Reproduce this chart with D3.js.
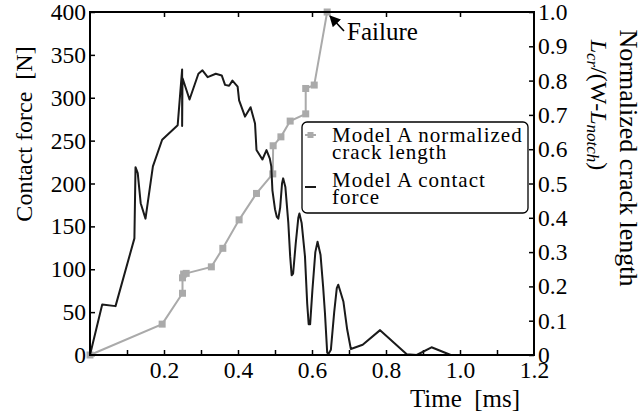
<!DOCTYPE html>
<html>
<head>
<meta charset="utf-8">
<script src="https://cdn.jsdelivr.net/npm/d3@7"></script>
<style>
  html, body { margin: 0; padding: 0; background: #fff; }
  svg text { font-family: "Liberation Serif", "Times New Roman", Tinos, "DejaVu Serif", serif !important; fill: #000; }
</style>
</head>
<body>
<svg id="chart" width="643" height="414"></svg>
<script>
// ---- data ----
const forceTime = [0,0.033,0.069,0.12,0.123,0.129,0.137,0.150,0.170,0.195,0.237,0.249,0.249,0.250,0.269,0.293,0.304,0.318,0.340,0.356,0.365,0.376,0.385,0.399,0.403,0.419,0.434,0.446,0.450,0.466,0.477,0.486,0.490,0.493,0.500,0.505,0.509,0.514,0.519,0.522,0.528,0.536,0.541,0.545,0.549,0.556,0.563,0.566,0.572,0.581,0.587,0.591,0.595,0.601,0.609,0.615,0.623,0.630,0.635,0.641,0.644,0.651,0.660,0.667,0.671,0.676,0.685,0.695,0.705,0.737,0.784,0.856,0.883,0.923,0.975];
const forceValue = [0,59,57,136,219,212,177,159,220,251,268,333,267,323,298,328,332,324,328,326,315,314,320,313,297,278,289,270,239,228,239,229,220,192,170,161,159,172,200,206,196,154,115,93,95,130,160,165,154,115,60,36,36,75,120,132,117,80,49,3,1,6,50,78,82,75,62,30,7,12,29,1,0,9,0];

const crackTime = [0,0.195,0.25,0.25,0.253,0.26,0.328,0.359,0.403,0.45,0.494,0.495,0.516,0.541,0.583,0.583,0.606,0.641];
const crackValue = [0,0.090,0.18,0.225,0.236,0.238,0.257,0.311,0.394,0.471,0.528,0.610,0.636,0.682,0.703,0.777,0.787,1.0];

const xTicks = [0.1,0.2,0.3,0.4,0.5,0.6,0.7,0.8,0.9,1.0,1.1];
const xLabelTicks = [0.2,0.4,0.6,0.8,1.0,1.2];
const xTopTicks = [0.2,0.4,0.6,0.8,1.0];
const yLeftTicks = [0,50,100,150,200,250,300,350,400];
const yRightTicks = [0,0.1,0.2,0.3,0.4,0.5,0.6,0.7,0.8,0.9,1.0];
const legendLabels = [["Model A normalized","crack length"],["Model A contact","force"]];

// ---- layout ----
const svg = d3.select("#chart");
const L = 90, R = 534, T = 12, B = 355;
const x = d3.scaleLinear().domain([0,1.2]).range([L,R]);
const yL = d3.scaleLinear().domain([0,400]).range([B,T]);
const yR = d3.scaleLinear().domain([0,1]).range([B,T]);

const gray = "#aaaaaa";
const black = "#1a1a1a";
const tickFont = 23.5;

function styleAxis(g) {
  g.attr("font-family", null);
  g.select(".domain").remove();
  g.selectAll(".tick line").attr("stroke", "#000").attr("stroke-width", 1.5);
  g.selectAll(".tick text").attr("font-size", tickFont);
}
svg.append("g").attr("transform", `translate(0,${B})`)
  .call(d3.axisBottom(x).tickValues(xTicks).tickSize(-5).tickFormat(""))
  .call(styleAxis);
svg.append("g").attr("transform", `translate(0,${B})`)
  .call(d3.axisBottom(x).tickValues(xLabelTicks).tickSize(0).tickPadding(6).tickFormat(d3.format(".1f")))
  .call(styleAxis);
svg.append("g").attr("transform", `translate(0,${T})`)
  .call(d3.axisTop(x).tickValues(xTopTicks).tickSize(-5).tickFormat(""))
  .call(styleAxis);
svg.append("g").attr("transform", `translate(${L},0)`)
  .call(d3.axisLeft(yL).tickValues(yLeftTicks).tickSize(-5).tickPadding(4).tickFormat(d3.format("d")))
  .call(styleAxis);
svg.append("g").attr("transform", `translate(${R},0)`)
  .call(d3.axisRight(yR).tickValues(yRightTicks).tickSize(-5).tickPadding(4)
    .tickFormat(d => d === 0 ? "0" : d3.format(".1f")(d)))
  .call(styleAxis);

// crack length line (gray)
const crackData = crackTime.map((t,i) => [t, crackValue[i]]);
svg.append("path").datum(crackData)
  .attr("fill","none").attr("stroke", gray).attr("stroke-width", 2)
  .attr("d", d3.line().x(d => x(d[0])).y(d => yR(d[1])));
svg.selectAll("rect.mk").data(crackData).enter().append("rect").attr("class","mk")
  .attr("x", d => x(d[0]) - 3.5).attr("y", d => yR(d[1]) - 3.5)
  .attr("width", 7).attr("height", 7).attr("fill", gray);

// contact force (black)
const forceData = forceTime.map((t,i) => [t, forceValue[i]]);
svg.append("path").datum(forceData)
  .attr("fill","none").attr("stroke", black).attr("stroke-width", 2)
  .attr("stroke-linejoin","round")
  .attr("d", d3.line().x(d => x(d[0])).y(d => yL(d[1])));

// frame
svg.append("rect").attr("x", L).attr("y", T).attr("width", R - L).attr("height", B - T)
  .attr("fill","none").attr("stroke","#000").attr("stroke-width", 2);

// legend
const lg = svg.append("g");
lg.append("rect").attr("x", 302).attr("y", 122).attr("width", 226).attr("height", 91)
  .attr("rx", 5).attr("fill", "#fff").attr("stroke", "#000").attr("stroke-width", 1.3);
lg.append("line").attr("x1", 305).attr("x2", 316).attr("y1", 135).attr("y2", 135)
  .attr("stroke", gray).attr("stroke-width", 2);
lg.append("rect").attr("x", 307.5).attr("y", 132).attr("width", 6).attr("height", 6).attr("fill", gray);
lg.append("line").attr("x1", 305).attr("x2", 316).attr("y1", 187).attr("y2", 187)
  .attr("stroke", black).attr("stroke-width", 2);
const legendY = [[142,159],[187,204]];
legendLabels.forEach((lines, i) => {
  lines.forEach((s, j) => {
    lg.append("text").attr("x", 332).attr("y", legendY[i][j]).attr("font-size", 21)
      .attr("letter-spacing", 1).text(s);
  });
});

// failure annotation
svg.append("defs").append("marker").attr("id","arr").attr("viewBox","0 0 10 10")
  .attr("refX", 9).attr("refY", 5).attr("markerWidth", 7).attr("markerHeight", 7)
  .attr("orient","auto").append("path").attr("d","M0,0 L10,5 L0,10 Z").attr("fill","#000");
svg.append("line").attr("x1", 344).attr("y1", 31).attr("x2", 330).attr("y2", 16)
  .attr("stroke","#000").attr("stroke-width", 1.6).attr("marker-end","url(#arr)");
svg.append("text").attr("x", 347).attr("y", 40).attr("font-size", 25).text("Failure");

// axis titles
svg.append("text").attr("x", 465).attr("y", 407).attr("text-anchor","middle")
  .attr("font-size", 25).attr("xml:space","preserve").text("Time  [ms]");
svg.append("text").attr("transform","translate(32,134) rotate(-90)").attr("text-anchor","middle")
  .attr("font-size", 24).attr("xml:space","preserve").text("Contact force  [N]");
svg.append("text").attr("transform","translate(620,158) rotate(90)").attr("text-anchor","middle")
  .attr("font-size", 26).text("Normalized crack length");
const t2 = svg.append("text").attr("transform","translate(591,105) rotate(90)").attr("text-anchor","middle")
  .attr("font-size", 24);
t2.append("tspan").attr("font-style","italic").text("L");
t2.append("tspan").attr("font-style","italic").attr("font-size", 17).attr("dy", 4).text("cr");
t2.append("tspan").attr("dy", -4).text("/(W-");
t2.append("tspan").attr("font-style","italic").text("L");
t2.append("tspan").attr("font-style","italic").attr("font-size", 17).attr("dy", 4).text("notch");
t2.append("tspan").attr("dy", -4).text(")");
</script>
</body>
</html>
